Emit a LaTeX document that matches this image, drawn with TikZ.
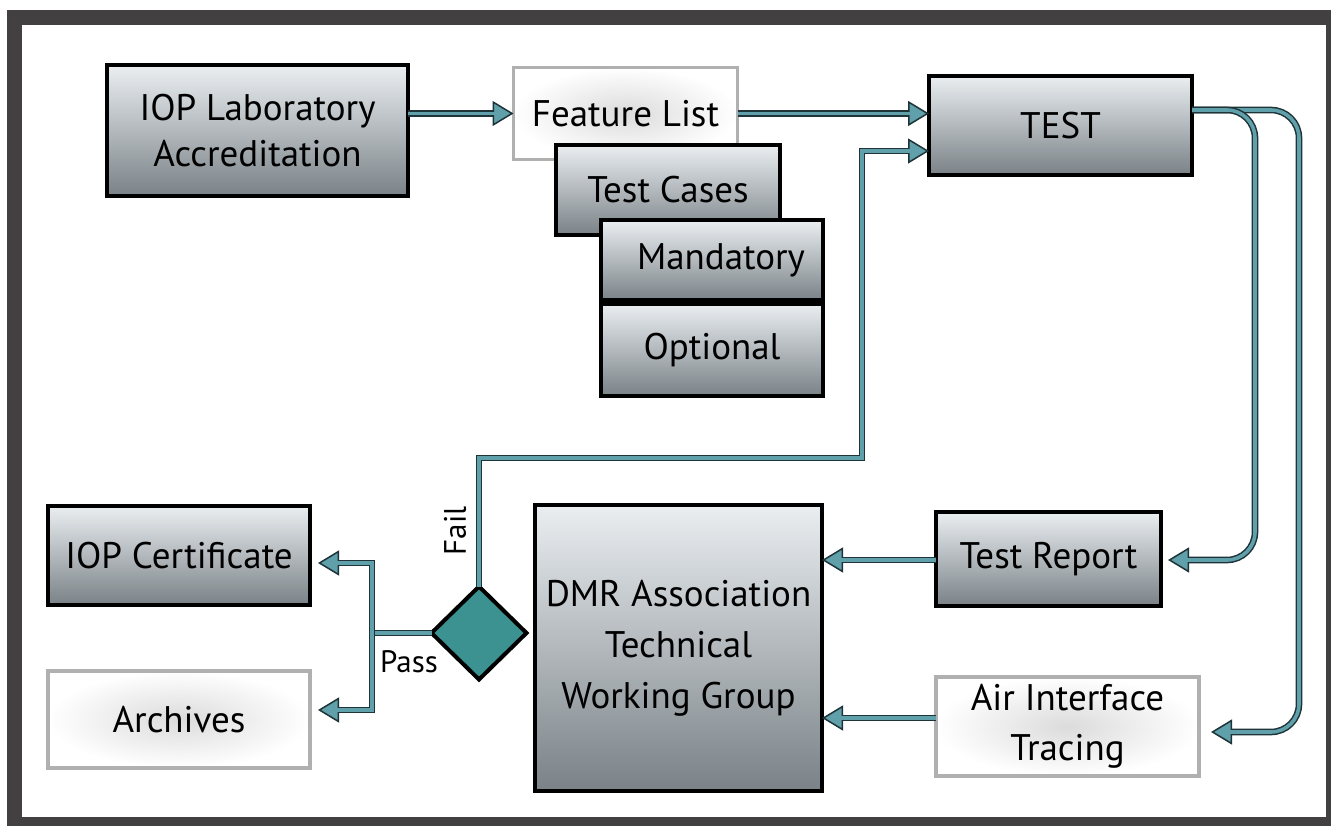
\documentclass[tikz,border=0pt]{standalone}
\usepackage{fontspec}
\setmainfont{PT Sans}
\usepackage{tikz}
\usetikzlibrary{shapes.geometric, arrows.meta}

\definecolor{frameclr}{RGB}{67,64,65}
\definecolor{boxtop}{RGB}{234,238,241}
\definecolor{boxbot}{RGB}{122,130,135}
\definecolor{lightedge}{RGB}{176,176,176}
\definecolor{connin}{RGB}{96,160,170}
\definecolor{connout}{RGB}{30,52,56}
\definecolor{diafill}{RGB}{60,145,145}

\begin{document}
\begin{tikzpicture}[
	x=1pt, y=-1pt,
	every node/.style = {inner sep=0pt, outer sep=0pt, align=center, font=\fontsize{37}{46}\selectfont},
	darkbox/.style = {shape=rectangle, draw=black, line width=4pt, top color=boxtop, bottom color=boxbot},
	lightbox/.style = {shape=rectangle, draw=lightedge, line width=3.5pt, shading=radial, inner color=black!14, outer color=white},
	decide/.style = {shape=diamond, draw=black, line width=4pt, fill=diafill, aspect=1},
	lbl/.style = {font=\fontsize{31}{34}\selectfont},
	head/.tip = {Triangle[length=21pt, width=25pt, line width=1.5pt, fill=connin]},
	conn/.style = {draw=connout, line width=6.6pt, postaction={draw=connin, line width=3.6pt}},
	arr/.style = {draw=connout, line width=6.6pt, -head, postaction={draw=connin, line width=3.6pt, -, shorten >=17pt}},
	arrboth/.style = {draw=connout, line width=6.6pt, head-head, postaction={draw=connin, line width=3.6pt, -, shorten >=17pt, shorten <=17pt}},
	]
% frame and margins
\useasboundingbox (0,0) rectangle (1331,826);
\fill[frameclr] (7,10) rectangle (1331,826);
\fill[white] (22,25) rectangle (1326,817);

% boxes, top row
\node[darkbox, minimum width=301pt, minimum height=131pt] (lab) at (257.5,131) {IOP Laboratory\\Accreditation};
\node[lightbox, minimum width=224pt, minimum height=92pt] (feat) at (625.5,113.5) {Feature List};
\node[darkbox, minimum width=224pt, minimum height=90pt] (cases) at (668,190) {Test Cases};
\node[darkbox, minimum width=222pt, minimum height=80pt] (mand) at (712,260.5) {\hspace*{18pt}Mandatory};
\node[darkbox, minimum width=222pt, minimum height=92pt] (opt) at (712,350) {Optional};
\node[darkbox, minimum width=263pt, minimum height=99pt] (test) at (1060.5,125.5) {TEST};

% boxes, bottom row
\node[darkbox, minimum width=262pt, minimum height=99pt] (cert) at (179,555.5) {IOP Certificate};
\node[lightbox, minimum width=262pt, minimum height=97pt] (arch) at (179,719.5) {Archives};
\node[decide, minimum width=95pt, minimum height=93pt] (dia) at (479,633) {};
\node[darkbox, minimum width=287pt, minimum height=286pt, font=\fontsize{37}{51}\selectfont] (dmr) at (678.5,648) {DMR Association\\Technical\\Working Group};
\node[darkbox, minimum width=225pt, minimum height=94pt] (report) at (1048.5,559) {Test Report};
\node[lightbox, minimum width=263pt, minimum height=99pt, font=\fontsize{37}{50}\selectfont] (air) at (1067.5,726.5) {Air Interface\\Tracing};

% turning points
\coordinate (failturn) at (862,458);
\coordinate (failtop) at (862,151);
\coordinate (split) at (372,633);
\coordinate (rep) at (1255,560);
\coordinate (trace) at (1299,732);

% connectors
\draw[arr] (lab.east |- feat.west) -- (feat.west);
\draw[arr] (feat.east) -- (feat.east -| test.west);
\draw[arr] (dia.north) |- (failturn) |- (test.west |- failtop);
\draw[arr, rounded corners=28pt] (test.east |- 0,110) -| (trace) -- ([xshift=12pt]air.east |- trace);
\draw[arr, rounded corners=28pt] (test.east |- 0,110) -| (rep) -- ([xshift=7pt]report.east |- rep);
\draw[arr] (report.west |- rep) -- (dmr.east |- rep);
\draw[arr] (air.west |- 0,718) -- (dmr.east |- 0,718);
\draw[conn] (dia.west) -- (split);
\draw[arrboth] ([xshift=8pt]cert.east |- 0,563) -| (split) |- ([xshift=8pt]arch.east |- 0,710);

% decision labels
\node[lbl, rotate=90] (fail) at (455,531) {Fail};
\node[lbl] (pass) at (409,662) {Pass};
\end{tikzpicture}
\end{document}
